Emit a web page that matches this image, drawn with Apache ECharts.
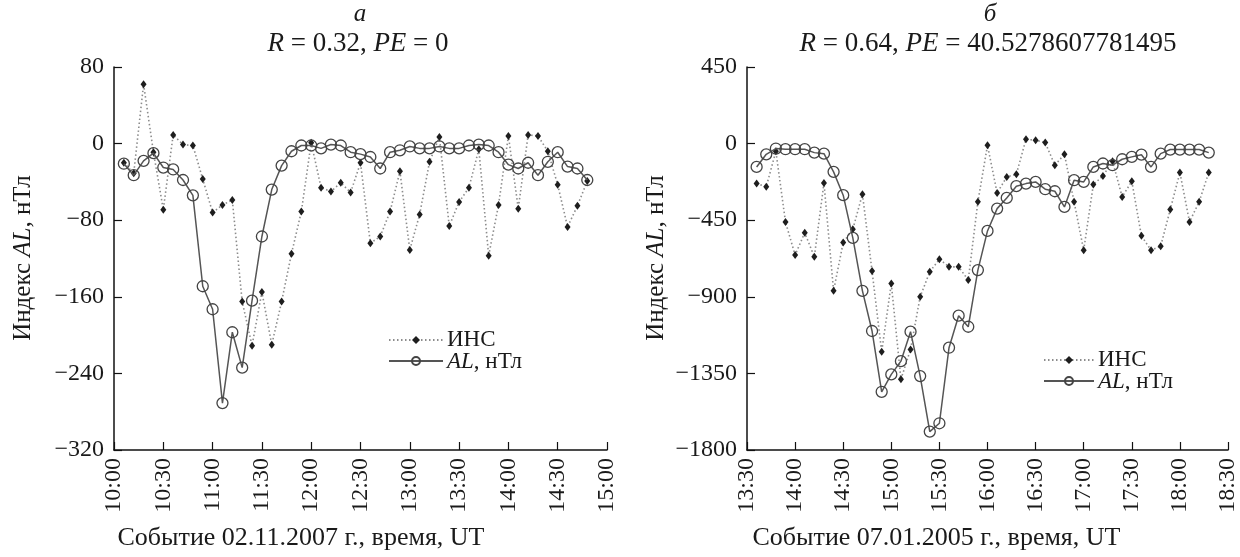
<!DOCTYPE html>
<html><head><meta charset="utf-8">
<script src="https://cdn.jsdelivr.net/npm/echarts@6/dist/echarts.min.js"></script>
<style>html,body{margin:0;padding:0;background:#fff}#c{width:1240px;height:557px}</style>
</head><body><div id="c"></div>
<script>
// ---- Data (a): event 02.11.2007 ----
const timesA = ['10:06','10:12','10:18','10:24','10:30','10:36','10:42','10:48','10:54','11:00',
  '11:06','11:12','11:18','11:24','11:30','11:36','11:42','11:48','11:54','12:00',
  '12:06','12:12','12:18','12:24','12:30','12:36','12:42','12:48','12:54','13:00',
  '13:06','13:12','13:18','13:24','13:30','13:36','13:42','13:48','13:54','14:00',
  '14:06','14:12','14:18','14:24','14:30','14:36','14:42','14:48'];
const insA = [-20,-31,62,-9,-69,9,-1,-2,-37,-72,
  -64,-59,-165,-211,-155,-210,-165,-115,-71,1,
  -46,-50,-41,-51,-20,-104,-97,-71,-29,-111,
  -74,-19,7,-86,-61,-46,-6,-117,-64,8,
  -68,9,8,-8,-43,-87,-65,-39];
const alA = [-21,-33,-18,-10,-25,-27,-38,-54,-149,-173,
  -271,-197,-234,-164,-97,-48,-23,-8,-2,-2,
  -5,-1,-2,-9,-11,-14,-26,-9,-7,-3,
  -5,-5,-3,-5,-5,-2,-1,-2,-9,-22,
  -26,-20,-33,-19,-9,-24,-26,-38];
// ---- Data (б): event 07.01.2005 ----
const timesB = ['13:36','13:42','13:48','13:54','14:00','14:06','14:12','14:18','14:24','14:30',
  '14:36','14:42','14:48','14:54','15:00','15:06','15:12','15:18','15:24','15:30',
  '15:36','15:42','15:48','15:54','16:00','16:06','16:12','16:18','16:24','16:30',
  '16:36','16:42','16:48','16:54','17:00','17:06','17:12','17:18','17:24','17:30',
  '17:36','17:42','17:48','17:54','18:00','18:06','18:12','18:18'];
const insB = [-235,-254,-45,-460,-655,-524,-665,-231,-865,-581,
  -503,-297,-749,-1223,-822,-1385,-1209,-900,-753,-679,
  -724,-724,-802,-342,-10,-290,-196,-180,25,20,
  6,-127,-63,-342,-626,-241,-190,-104,-313,-221,
  -542,-626,-603,-387,-170,-460,-342,-170];
const alB = [-137,-63,-29,-33,-33,-33,-53,-59,-166,-303,
  -554,-865,-1101,-1458,-1356,-1278,-1105,-1366,-1692,-1643,
  -1199,-1011,-1076,-743,-513,-382,-319,-250,-235,-225,
  -268,-280,-372,-215,-225,-137,-117,-127,-92,-78,
  -65,-137,-59,-35,-35,-35,-35,-53];
// ---- Axis ranges / ticks ----
const xRangeA = ['10:00','15:00'];
const xRangeB = ['13:30','18:30'];
const xStepMin = 30;
const yTicksA = [-320,-240,-160,-80,0,80];
const yTicksB = [-1800,-1350,-900,-450,0,450];
const titlesA = ['а', '{i|R}{n| = 0.32, }{i|PE}{n| = 0}', 'Событие 02.11.2007 г., время, UT'];
const titlesB = ['б', '{i|R}{n| = 0.64, }{i|PE}{n| = 40.5278607781495}', 'Событие 07.01.2005 г., время, UT'];
const yTitle = '{n|Индекс }{i|AL}{n|, нТл}';
const seriesNames = ['ИНС', 'AL, нТл'];
const legendLabels = ['{n|ИНС}', '{i|AL}{n|, нТл}'];

const FAM = 'Liberation Serif';
const TXT = '#1a1a1a';
const toMin = s => { const p = s.split(':'); return (+p[0]) * 60 + (+p[1]); };
const fmtTime = v => { const h = Math.floor(v / 60), m = v % 60; return h + ':' + (m < 10 ? '0' : '') + m; };
const fmtY = v => v < 0 ? '\u2212' + Math.abs(v) : String(v);
const pairs = (t, v) => t.map((s, i) => [toMin(s), v[i]]);

const chart = echarts.init(document.getElementById('c'), null, {renderer: 'canvas'});

function xAxisCfg(gi, range, name, shift) {
  return {
    type: 'value', gridIndex: gi, min: toMin(range[0]), max: toMin(range[1]), interval: xStepMin,
    axisLine: {onZero: false, lineStyle: {color: '#111', width: 1.5}},
    axisTick: {inside: true, length: 8, lineStyle: {color: '#111', width: 1.2}},
    splitLine: {show: false},
    axisLabel: {rotate: 90, formatter: fmtTime, fontFamily: FAM, fontSize: 24, color: TXT, margin: 8},
    name: name, nameLocation: 'middle', nameGap: 75,
    nameTextStyle: {fontFamily: FAM, fontSize: 26, color: TXT, padding: [0, shift, 0, 0]}
  };
}
function yAxisCfg(gi, ticks) {
  return {
    type: 'value', gridIndex: gi, min: ticks[0], max: ticks[ticks.length - 1], interval: ticks[1] - ticks[0],
    axisLine: {show: true, lineStyle: {color: '#111', width: 1.5}},
    axisTick: {show: true, inside: true, length: 8, lineStyle: {color: '#111', width: 1.2}},
    splitLine: {show: false},
    axisLabel: {formatter: fmtY, fontFamily: FAM, fontSize: 24, color: TXT, margin: 10}
  };
}
function insSeries(gi, t, v) {
  return {
    name: seriesNames[0], type: 'line', xAxisIndex: gi, yAxisIndex: gi, data: pairs(t, v),
    symbol: 'diamond', symbolSize: [6, 8], showSymbol: true,
    lineStyle: {type: [1.5, 2.5], width: 1.6, color: '#8c8c8c'},
    itemStyle: {color: '#1e1e1e'}, z: 2, animation: false
  };
}
function alSeries(gi, t, v) {
  return {
    name: seriesNames[1], type: 'line', xAxisIndex: gi, yAxisIndex: gi, data: pairs(t, v),
    symbol: 'circle', symbolSize: 11, showSymbol: true,
    lineStyle: {type: 'solid', width: 1.5, color: '#555'},
    itemStyle: {color: 'rgba(255,255,255,0)', borderColor: '#444', borderWidth: 1.3}, z: 3, animation: false
  };
}
// legend component draws the keys; its labels are drawn as rich text below
function legendCfg(left, top, w) {
  return {
    data: seriesNames, orient: 'vertical', left: left, top: top, itemWidth: w, itemHeight: 10, itemGap: 12,
    padding: 0, formatter: () => '', selectedMode: false,
    textStyle: {fontFamily: FAM, fontSize: 23, color: TXT}
  };
}
function richText(x, y, text, size, rot, align) {
  return {type: 'text', x: x, y: y, rotation: rot || 0, silent: true, style: {
    text: text, align: align || 'center', verticalAlign: 'middle', fontFamily: FAM, fontSize: size, fill: TXT,
    rich: {i: {fontFamily: FAM, fontSize: size, fontStyle: 'italic', fontWeight: 'normal', fill: TXT},
           n: {fontFamily: FAM, fontSize: size, fontStyle: 'normal', fontWeight: 'normal', fill: TXT}}}};
}

chart.setOption({
  backgroundColor: '#fff',
  animation: false,
  grid: [
    {left: 114, right: 633, top: 67, bottom: 107, containLabel: false},
    {left: 747, right: 9, top: 67, bottom: 107, containLabel: false}
  ],
  xAxis: [xAxisCfg(0, xRangeA, titlesA[2], 119), xAxisCfg(1, xRangeB, titlesB[2], 102)],
  yAxis: [yAxisCfg(0, yTicksA), yAxisCfg(1, yTicksB)],
  legend: [legendCfg(388, 335, 54), legendCfg(1043, 355, 50)],
  series: [insSeries(0, timesA, insA), alSeries(0, timesA, alA), insSeries(1, timesB, insB), alSeries(1, timesB, alB)],
  graphic: [
    richText(360, 14, '{i|' + titlesA[0] + '}', 25),
    richText(358, 44, titlesA[1], 27),
    richText(990, 14, '{i|' + titlesB[0] + '}', 25),
    richText(988, 44, titlesB[1], 27),
    richText(23, 258, yTitle, 25, Math.PI / 2),
    richText(656, 258, yTitle, 25, Math.PI / 2),
    richText(447, 340, legendLabels[0], 23, 0, 'left'),
    richText(447, 362, legendLabels[1], 23, 0, 'left'),
    richText(1098, 360, legendLabels[0], 23, 0, 'left'),
    richText(1098, 382, legendLabels[1], 23, 0, 'left')
  ]
});
</script></body></html>
